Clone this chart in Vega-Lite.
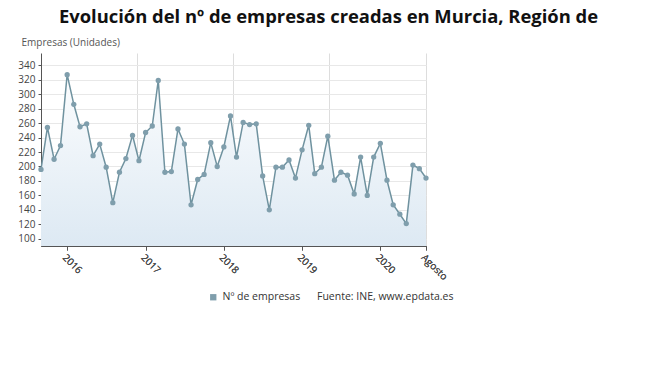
{
  "$schema": "https://vega.github.io/schema/vega-lite/v6.json",
  "width": 385,
  "height": 193,
  "autosize": {"type": "none"},
  "padding": {"left": 41, "top": 53, "right": 230, "bottom": 124},
  "config": {"font": "Open Sans", "view": {"stroke": null}},
  "title": {
    "text": "Evolución del nº de empresas creadas en Murcia, Región de",
    "fontSize": 18.4,
    "fontWeight": "bold",
    "color": "#111111",
    "anchor": "middle",
    "frame": "group",
    "dx": 95,
    "offset": 11
  },
  "data": {
    "values": [
      {"date": "2015-09-01", "v": 196}, {"date": "2015-10-01", "v": 254}, {"date": "2015-11-01", "v": 210}, {"date": "2015-12-01", "v": 229},
      {"date": "2016-01-01", "v": 327}, {"date": "2016-02-01", "v": 286}, {"date": "2016-03-01", "v": 255}, {"date": "2016-04-01", "v": 259},
      {"date": "2016-05-01", "v": 215}, {"date": "2016-06-01", "v": 231}, {"date": "2016-07-01", "v": 199}, {"date": "2016-08-01", "v": 150},
      {"date": "2016-09-01", "v": 192}, {"date": "2016-10-01", "v": 211}, {"date": "2016-11-01", "v": 243}, {"date": "2016-12-01", "v": 208},
      {"date": "2017-01-01", "v": 247}, {"date": "2017-02-01", "v": 256}, {"date": "2017-03-01", "v": 319}, {"date": "2017-04-01", "v": 192},
      {"date": "2017-05-01", "v": 193}, {"date": "2017-06-01", "v": 252}, {"date": "2017-07-01", "v": 231}, {"date": "2017-08-01", "v": 147},
      {"date": "2017-09-01", "v": 182}, {"date": "2017-10-01", "v": 189}, {"date": "2017-11-01", "v": 233}, {"date": "2017-12-01", "v": 200},
      {"date": "2018-01-01", "v": 227}, {"date": "2018-02-01", "v": 270}, {"date": "2018-03-01", "v": 213}, {"date": "2018-04-01", "v": 261},
      {"date": "2018-05-01", "v": 258}, {"date": "2018-06-01", "v": 259}, {"date": "2018-07-01", "v": 187}, {"date": "2018-08-01", "v": 140},
      {"date": "2018-09-01", "v": 199}, {"date": "2018-10-01", "v": 199}, {"date": "2018-11-01", "v": 209}, {"date": "2018-12-01", "v": 184},
      {"date": "2019-01-01", "v": 223}, {"date": "2019-02-01", "v": 257}, {"date": "2019-03-01", "v": 190}, {"date": "2019-04-01", "v": 199},
      {"date": "2019-05-01", "v": 242}, {"date": "2019-06-01", "v": 181}, {"date": "2019-07-01", "v": 192}, {"date": "2019-08-01", "v": 188},
      {"date": "2019-09-01", "v": 162}, {"date": "2019-10-01", "v": 213}, {"date": "2019-11-01", "v": 160}, {"date": "2019-12-01", "v": 213},
      {"date": "2020-01-01", "v": 232}, {"date": "2020-02-01", "v": 181}, {"date": "2020-03-01", "v": 147}, {"date": "2020-04-01", "v": 134},
      {"date": "2020-05-01", "v": 121}, {"date": "2020-06-01", "v": 202}, {"date": "2020-07-01", "v": 197}, {"date": "2020-08-01", "v": 184}
    ],
    "format": {"parse": {"date": "date:'%Y-%m-%d'"}}
  },
  "encoding": {
    "x": {
      "field": "date",
      "type": "temporal",
      "axis": {
        "values": [
          {"year": 2016, "month": 1, "date": 1},
          {"year": 2017, "month": 1, "date": 1},
          {"year": 2018, "month": 1, "date": 1},
          {"year": 2019, "month": 1, "date": 1},
          {"year": 2020, "month": 1, "date": 1},
          {"year": 2020, "month": 8, "date": 1}
        ],
        "labelExpr": "month(datum.value) == 7 ? 'Agosto' : timeFormat(datum.value, '%Y')",
        "labelAngle": 45,
        "labelAlign": "left",
        "labelBaseline": "top",
        "labelFontSize": 10,
        "labelColor": "#444444",
        "labelPadding": 2,
        "grid": false,
        "domainColor": "#555555",
        "tickColor": "#555555",
        "tickSize": 4,
        "title": null
      }
    },
    "y": {
      "field": "v",
      "type": "quantitative",
      "scale": {"domain": [90, 357], "nice": false, "zero": false},
      "axis": {
        "values": [100, 120, 140, 160, 180, 200, 220, 240, 260, 280, 300, 320, 340],
        "labelFontSize": 10,
        "labelColor": "#444444",
        "labelPadding": 3,
        "gridColor": "#e8e8e8",
        "domainColor": "#555555",
        "tickColor": "#555555",
        "tickSize": 3,
        "title": "Empresas (Unidades)",
        "titleAngle": 0,
        "titleAlign": "left",
        "titleBaseline": "middle",
        "titleX": -20,
        "titleY": -11,
        "titleFontSize": 10,
        "titleFontWeight": "normal",
        "titleColor": "#555555"
      }
    }
  },
  "layer": [
    {
      "mark": {
        "type": "area",
        "color": {
          "gradient": "linear",
          "x1": 0, "y1": 1, "x2": 0, "y2": 0,
          "stops": [
            {"offset": 0, "color": "#dde9f3"},
            {"offset": 1, "color": "#fcfdfe"}
          ]
        }
      },
      "encoding": {"y2": {"datum": 90}}
    },
    {
      "mark": {"type": "line", "color": "#6f929f", "strokeWidth": 1.5},
      "encoding": {
        "x": {
          "field": "date",
          "type": "temporal",
          "axis": {
            "orient": "top",
            "values": [
              {"year": 2016, "month": 11, "date": 20},
              {"year": 2018, "month": 2, "date": 13},
              {"year": 2019, "month": 5, "date": 7},
              {"year": 2020, "month": 8, "date": 1}
            ],
            "grid": true,
            "gridColor": "#dddddd",
            "labels": false,
            "ticks": false,
            "domain": false,
            "title": null
          }
        }
      }
    },
    {
      "mark": {"type": "point", "filled": true, "size": 28, "opacity": 1},
      "encoding": {
        "color": {
          "datum": "Nº de empresas",
          "type": "nominal",
          "scale": {"range": ["#7f9eac"]},
          "legend": {
            "orient": "none",
            "legendX": 167,
            "legendY": 239,
            "direction": "horizontal",
            "symbolType": "square",
            "symbolSize": 40,
            "labelFontSize": 10.5,
            "labelColor": "#333333",
            "title": "Fuente: INE, www.epdata.es",
            "titleOrient": "right",
            "titleFontSize": 10.5,
            "titleFontWeight": "normal",
            "titleColor": "#333333",
            "titlePadding": 17
          }
        }
      }
    }
  ],
  "resolve": {"axis": {"x": "independent"}}
}
